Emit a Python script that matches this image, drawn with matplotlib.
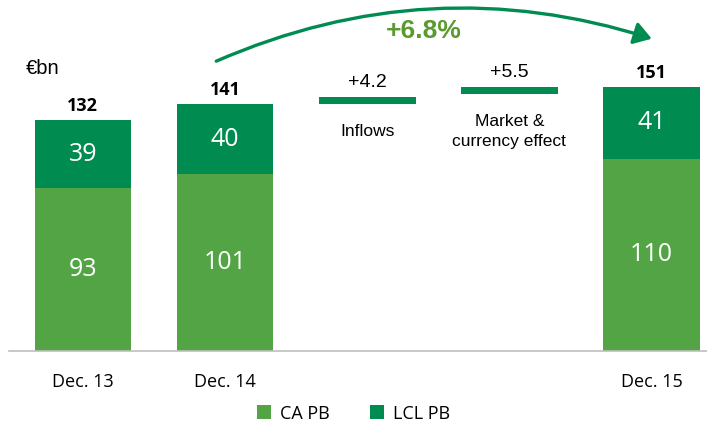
"""
Private banking assets under management, Dec. 13 to Dec. 15
"""

import numpy as np
from matplotlib import pyplot as plt
from matplotlib.patches import FancyArrowPatch

# Stacked bars
periods = ["Dec. 13", "Dec. 14", "Dec. 15"]
ca_pb = [93, 101, 110]
lcl_pb = [39, 40, 41]
totals = [132, 141, 151]

# Bridge steps between Dec. 14 and Dec. 15
step_names = ["Inflows", "Market &\ncurrency effect"]
step_values = [4.2, 5.5]
growth_label = "+6.8%"

ca_color = "#52A445"
lcl_color = "#008C50"
text_green = "#5B9A2E"

fig = plt.figure(figsize=(7.07, 4.24), dpi=100)
ax = fig.add_axes([9 / 707, 1 - 351 / 424, 1 - 9 / 707, 351 / 424])

bar_x = np.array([0, 1, 4])
step_x = np.array([2, 3])
width = 0.68

ax.bar(bar_x, ca_pb, width, color=ca_color, label="CA PB")
ax.bar(bar_x, lcl_pb, width, bottom=ca_pb, color=lcl_color, label="LCL PB")

for x, ca, lcl, tot in zip(bar_x, ca_pb, lcl_pb, totals):
    ax.text(x, ca / 2, str(ca), ha="center", va="center", color="white",
            fontsize=18, family="Open Sans")
    ax.text(x, ca + lcl / 2, str(lcl), ha="center", va="center", color="white",
            fontsize=18, family="Open Sans")
    ax.text(x, tot + 3, str(tot), ha="center", va="bottom", color="black",
            fontsize=13, fontweight="bold", family="Open Sans")

# thin step bars ending at the running total
level = totals[1]
thick = 4
for x, v, name in zip(step_x, step_values, step_names):
    level += v
    ax.bar(x, thick, width, bottom=level - thick, color=lcl_color)
    ax.text(x, level + 3.5, f"+{v}", ha="center", va="bottom", fontsize=14,
            family="Liberation Sans")
    ax.text(x, level - 15.5, name, ha="center", va="top", fontsize=12.5,
            family="Liberation Sans", linespacing=1.35)

ax.text(-0.4, 156, "€bn", ha="left", va="bottom", fontsize=14.5,
        family="Liberation Sans")

arrow = FancyArrowPatch((0.92, 165), (4.02, 178), connectionstyle="arc3,rad=-0.19",
                        arrowstyle="-|>,head_length=7,head_width=4.5",
                        color=lcl_color, lw=2.4, mutation_scale=1.5)
ax.add_patch(arrow)
ax.text(2.4, 183, growth_label, ha="center", va="center", color=text_green,
        fontsize=19, fontweight="bold", family="Liberation Sans")

ax.set_xlim(-0.52, 4.39)
ax.set_ylim(0, 200.6)
ax.set_xticks(bar_x)
ax.set_xticklabels(periods, family="Open Sans", fontsize=13)
ax.tick_params(axis="x", length=0, pad=16)
ax.set_yticks([])
for s in ["top", "right", "left"]:
    ax.spines[s].set_visible(False)
ax.spines["bottom"].set_color("#BFBFBF")
ax.spines["bottom"].set_linewidth(1.2)

fig.legend(loc="lower center", bbox_to_anchor=(0.5, -0.035), ncol=2, frameon=False,
           prop={"family": "Open Sans", "size": 13}, handlelength=0.8, handleheight=0.8,
           columnspacing=2.2, handletextpad=0.5)

fig.savefig("out.png", dpi=100)
